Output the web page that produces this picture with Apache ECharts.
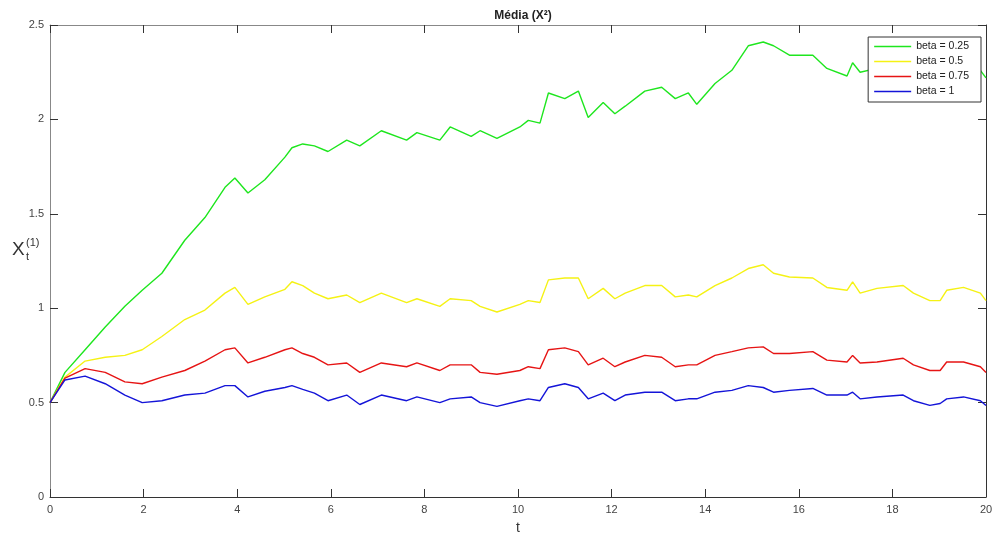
<!DOCTYPE html>
<html>
<head>
<meta charset="utf-8">
<script src="https://cdn.jsdelivr.net/npm/echarts@6/dist/echarts.min.js"></script>
<style>
  html, body { margin: 0; padding: 0; background: #fff; }
  #chart { width: 992px; height: 535px; }
</style>
</head>
<body>
<div id="chart"></div>
<script>
// tempos
var tempo = [0, 0.32, 0.75, 1.18, 1.6, 1.97, 2.39, 2.88, 3.31, 3.74,
  3.95, 4.23, 4.59, 5.02, 5.17, 5.4, 5.65, 5.94, 6.34, 6.62,
  7.08, 7.62, 7.84, 8.33, 8.55, 9.0, 9.19, 9.55, 10.04, 10.22,
  10.47, 10.65, 11.0, 11.29, 11.5, 11.82, 12.07, 12.29, 12.71, 13.07,
  13.36, 13.64, 13.82, 14.21, 14.57, 14.92, 15.24, 15.46, 15.8, 16.3,
  16.6, 17.03, 17.15, 17.31, 17.67, 18.23, 18.45, 18.8, 19.02, 19.16,
  19.52, 19.88, 20];

var beta025 = [0.5, 0.66, 0.78, 0.90, 1.01, 1.095, 1.185, 1.36, 1.48, 1.64,
  1.69, 1.61, 1.68, 1.80, 1.85, 1.87, 1.86, 1.83, 1.89, 1.86,
  1.94, 1.89, 1.93, 1.89, 1.96, 1.91, 1.94, 1.90, 1.96, 1.995,
  1.98, 2.14, 2.11, 2.15, 2.01, 2.09, 2.03, 2.07, 2.15, 2.17,
  2.11, 2.14, 2.08, 2.19, 2.26, 2.39, 2.41, 2.39, 2.34, 2.34,
  2.27, 2.23, 2.30, 2.25, 2.27, 2.26, 2.25, 2.24, 2.26, 2.25,
  2.27, 2.26, 2.22];

var beta05 = [0.5, 0.635, 0.72, 0.74, 0.75, 0.78, 0.85, 0.94, 0.99, 1.08,
  1.11, 1.02, 1.06, 1.10, 1.14, 1.12, 1.08, 1.05, 1.07, 1.03,
  1.08, 1.03, 1.05, 1.01, 1.05, 1.04, 1.01, 0.98, 1.02, 1.04,
  1.03, 1.15, 1.16, 1.16, 1.05, 1.105, 1.05, 1.08, 1.12, 1.12,
  1.06, 1.07, 1.06, 1.12, 1.16, 1.21, 1.23, 1.185, 1.165, 1.16,
  1.11, 1.095, 1.14, 1.08, 1.105, 1.12, 1.08, 1.04, 1.04, 1.095,
  1.11, 1.08, 1.04];

var beta075 = [0.5, 0.63, 0.68, 0.66, 0.61, 0.60, 0.635, 0.67, 0.72, 0.78,
  0.79, 0.71, 0.74, 0.78, 0.79, 0.76, 0.74, 0.70, 0.71, 0.66,
  0.71, 0.69, 0.71, 0.67, 0.70, 0.70, 0.66, 0.65, 0.67, 0.69,
  0.68, 0.78, 0.79, 0.77, 0.70, 0.735, 0.69, 0.715, 0.75, 0.74,
  0.69, 0.70, 0.70, 0.75, 0.77, 0.79, 0.795, 0.76, 0.76, 0.77,
  0.725, 0.715, 0.75, 0.71, 0.715, 0.735, 0.70, 0.67, 0.67, 0.715,
  0.715, 0.69, 0.66];

var beta1 = [0.5, 0.62, 0.64, 0.60, 0.54, 0.50, 0.51, 0.54, 0.55, 0.59,
  0.59, 0.53, 0.56, 0.58, 0.59, 0.57, 0.55, 0.51, 0.54, 0.49,
  0.54, 0.51, 0.53, 0.50, 0.52, 0.53, 0.50, 0.48, 0.51, 0.52,
  0.51, 0.58, 0.60, 0.58, 0.52, 0.55, 0.51, 0.54, 0.555, 0.555,
  0.51, 0.52, 0.52, 0.555, 0.565, 0.59, 0.58, 0.555, 0.565, 0.575,
  0.54, 0.54, 0.555, 0.52, 0.53, 0.54, 0.51, 0.485, 0.495, 0.52,
  0.53, 0.51, 0.485];

var nomes = ['beta = 0.25', 'beta = 0.5', 'beta = 0.75', 'beta = 1'];
var cores = ['#1ee61e', '#f5f214', '#e61414', '#1414d8'];
var valores = [beta025, beta05, beta075, beta1];

function pares(v) {
  return tempo.map(function (t, i) { return [t, v[i]]; });
}

var fonte = 'Liberation Sans, Arial, sans-serif';
var escuro = '#333';
var claro = '#888';

var myChart = echarts.init(document.getElementById('chart'));
myChart.setOption({
  animation: false,
  backgroundColor: '#fff',
  title: {
    text: 'Média (X²)',
    left: 518,
    textAlign: 'center',
    top: 5,
    textStyle: { fontFamily: fonte, fontSize: 12, fontWeight: 'bold', color: '#222' }
  },
  grid: { left: 50, right: 6, top: 25, bottom: 38, outerBoundsMode: 'none' },
  legend: {
    orient: 'vertical',
    right: 11,
    top: 37,
    data: nomes,
    icon: 'rect',
    itemWidth: 37,
    itemHeight: 1.5,
    itemGap: 0,
    padding: [2, 12, 3, 6],
    borderColor: '#333',
    borderWidth: 1,
    backgroundColor: '#fff',
    textStyle: { fontFamily: fonte, fontSize: 10.5, color: '#222', lineHeight: 15 }
  },
  xAxis: [{
    type: 'value',
    min: 0, max: 20, interval: 2,
    name: 't',
    nameLocation: 'middle',
    nameGap: 24,
    nameTextStyle: { fontFamily: fonte, fontSize: 14, color: '#333' },
    axisLine: { show: true, onZero: false, lineStyle: { color: escuro } },
    axisTick: { inside: true, length: 8, lineStyle: { color: escuro } },
    axisLabel: { fontFamily: fonte, fontSize: 11, color: '#444', margin: 7 },
    splitLine: { show: false }
  }, {
    type: 'value',
    position: 'top',
    min: 0, max: 20, interval: 2,
    axisLine: { show: true, onZero: false, lineStyle: { color: claro } },
    axisTick: { show: true, inside: true, length: 8, lineStyle: { color: escuro } },
    axisLabel: { show: false },
    splitLine: { show: false }
  }],
  yAxis: [{
    type: 'value',
    min: 0, max: 2.5, interval: 0.5,
    axisLine: { show: true, onZero: false, lineStyle: { color: claro } },
    axisTick: { show: true, inside: true, length: 8, lineStyle: { color: escuro } },
    axisLabel: { fontFamily: fonte, fontSize: 11, color: '#444', margin: 6 },
    splitLine: { show: false }
  }, {
    type: 'value',
    position: 'right',
    min: 0, max: 2.5, interval: 0.5,
    axisLine: { show: true, onZero: false, lineStyle: { color: escuro } },
    axisTick: { show: true, inside: true, length: 8, lineStyle: { color: escuro } },
    axisLabel: { show: false },
    splitLine: { show: false }
  }],
  graphic: [
    { type: 'text', left: 12, top: 240, style: { text: 'X', font: '19px ' + fonte, fill: '#333' } },
    { type: 'text', left: 26, top: 237, style: { text: '(1)', font: '11px ' + fonte, fill: '#333' } },
    { type: 'text', left: 26, top: 251, style: { text: 't', font: '11px ' + fonte, fill: '#333' } }
  ],
  series: nomes.map(function (n, i) {
    return {
      name: n,
      type: 'line',
      data: pares(valores[i]),
      symbol: 'none',
      lineStyle: { width: 1.4, color: cores[i] },
      itemStyle: { color: cores[i] },
      z: 2
    };
  })
});
</script>
</body>
</html>
